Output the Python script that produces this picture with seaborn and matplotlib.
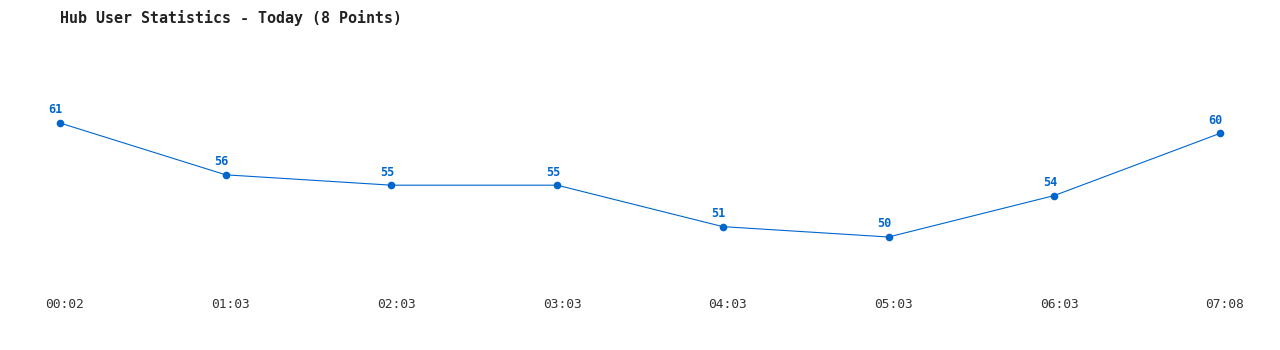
import matplotlib
matplotlib.use("Agg")
import matplotlib.pyplot as plt
import matplotlib.transforms as mtransforms
import seaborn as sns
import pandas as pd

times = ["00:02", "01:03", "02:03", "03:03", "04:03", "05:03", "06:03", "07:08"]
users = [61, 56, 55, 55, 51, 50, 54, 60]

sns.set_theme(style="white")
plt.rcParams['font.family'] = ['DejaVu Sans Mono', 'DejaVu Sans']

df = pd.DataFrame({"idx": range(len(times)), "users": users})
color = "#0066CC"

fig = plt.figure(figsize=(12.8, 3.5), dpi=100)
ax = fig.add_axes([60/1280, (350-260)/350, (1220-60)/1280, 160/350])
sns.lineplot(data=df, x="idx", y="users", ax=ax, color=color, linewidth=0.8,
             marker="o", markersize=5.5, markeredgewidth=0, markerfacecolor=color)
for ln in ax.get_lines():
    ln.set_clip_on(False)
ax.set_xlim(0, 7)
ax.set_ylim(47.78, 63.22)
for i, v in zip(df["idx"], df["users"]):
    ax.annotate(str(v), (i, v), xytext=(-3, 4.8), textcoords="offset points",
                ha="center", va="bottom", fontsize=8.5, fontweight="bold", color=color)
ax.set_xticks(list(df["idx"]))
ax.set_xticklabels(times, fontsize=9.3, color="#333333")
ax.tick_params(axis="x", length=0, pad=27)
shift = mtransforms.ScaledTranslation(5/100, 0, fig.dpi_scale_trans)
for lbl in ax.get_xticklabels():
    lbl.set_transform(lbl.get_transform() + shift)
ax.set_yticks([])
ax.set_xlabel("")
ax.set_ylabel("")
for s in ax.spines.values():
    s.set_visible(False)
ax.patch.set_alpha(0)
fig.text(60/1280, 1 - 18/350, "Hub User Statistics - Today (8 Points)", ha="left", va="center",
         fontsize=10.8, fontweight="bold", color="#222222")
fig.savefig("out.png", dpi=100, facecolor="white")
